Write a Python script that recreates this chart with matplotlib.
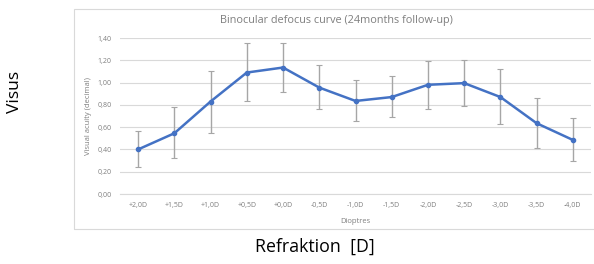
import matplotlib
matplotlib.use("Agg")
import matplotlib.pyplot as plt
from matplotlib.patches import Rectangle
import numpy as np

categories = ["+2,0D", "+1,5D", "+1,0D", "+0,5D", "+0,0D", "-0,5D", "-1,0D",
              "-1,5D", "-2,0D", "-2,5D", "-3,0D", "-3,5D", "-4,0D"]
values = [0.40, 0.545, 0.83, 1.09, 1.135, 0.955, 0.835, 0.87, 0.98, 0.995, 0.87, 0.635, 0.485]
err_upper = [0.565, 0.785, 1.10, 1.355, 1.355, 1.16, 1.025, 1.055, 1.195, 1.20, 1.12, 0.865, 0.68]
err_lower = [0.24, 0.32, 0.55, 0.835, 0.915, 0.76, 0.655, 0.69, 0.765, 0.79, 0.63, 0.41, 0.30]
yticks = [0.0, 0.2, 0.4, 0.6, 0.8, 1.0, 1.2, 1.4]

plt.rcParams['font.family'] = ['Open Sans', 'DejaVu Sans']

fig = plt.figure(figsize=(5.94, 2.64), dpi=100)
fig.patch.set_facecolor("white")

# chart frame
fig.patches.append(Rectangle((74/594, 1-229/264), 0.9, 220/264, transform=fig.transFigure,
                             fill=False, edgecolor="#D9D9D9", linewidth=0.8))

ax = fig.add_axes([120/594, 1-194/264, 471/594, 156/264])
x = np.arange(len(categories))
v = np.array(values)
yerr = [v - np.array(err_lower), np.array(err_upper) - v]
ax.errorbar(x, v, yerr=yerr, fmt='none', ecolor="#A6A6A6", elinewidth=1.0, capsize=2.5, capthick=0.8, zorder=2)
ax.plot(x, v, color="#4472C4", linewidth=1.8, marker='o', markersize=3, zorder=3)

ax.set_xlim(-0.5, len(categories) - 0.5)
ax.set_ylim(0, 1.4)
ax.set_yticks(yticks)
ax.set_yticklabels([f"{t:.2f}".replace('.', ',') for t in yticks], fontsize=5, color="#7F7F7F")
ax.set_xticks(x)
ax.set_xticklabels(categories, fontsize=5, color="#7F7F7F")
ax.tick_params(length=0, pad=6)
ax.grid(axis='y', color="#D9D9D9", linewidth=0.8)
ax.set_axisbelow(True)
for s in ['top', 'right', 'left']:
    ax.spines[s].set_visible(False)
ax.spines['bottom'].set_color("#D9D9D9")
ax.spines['bottom'].set_linewidth(0.8)

ax.set_ylabel("Visual acuity (decimal)", fontsize=5.5, color="#7F7F7F", labelpad=4)
ax.set_xlabel("Dioptres", fontsize=5.5, color="#7F7F7F", labelpad=6)

fig.text(336/594, 1-21/264, "Binocular defocus curve (24months follow-up)", fontsize=7.8,
         color="#7F7F7F", ha='center', va='center')
fig.text(315/594, 1-247/264, "Refraktion  [D]", fontsize=12.8, color="black", ha='center', va='center')
fig.text(15/594, 1-92/264, "Visus", fontsize=12.5, color="black", ha='center', va='center', rotation=90)

fig.savefig("out.png", dpi=100)
